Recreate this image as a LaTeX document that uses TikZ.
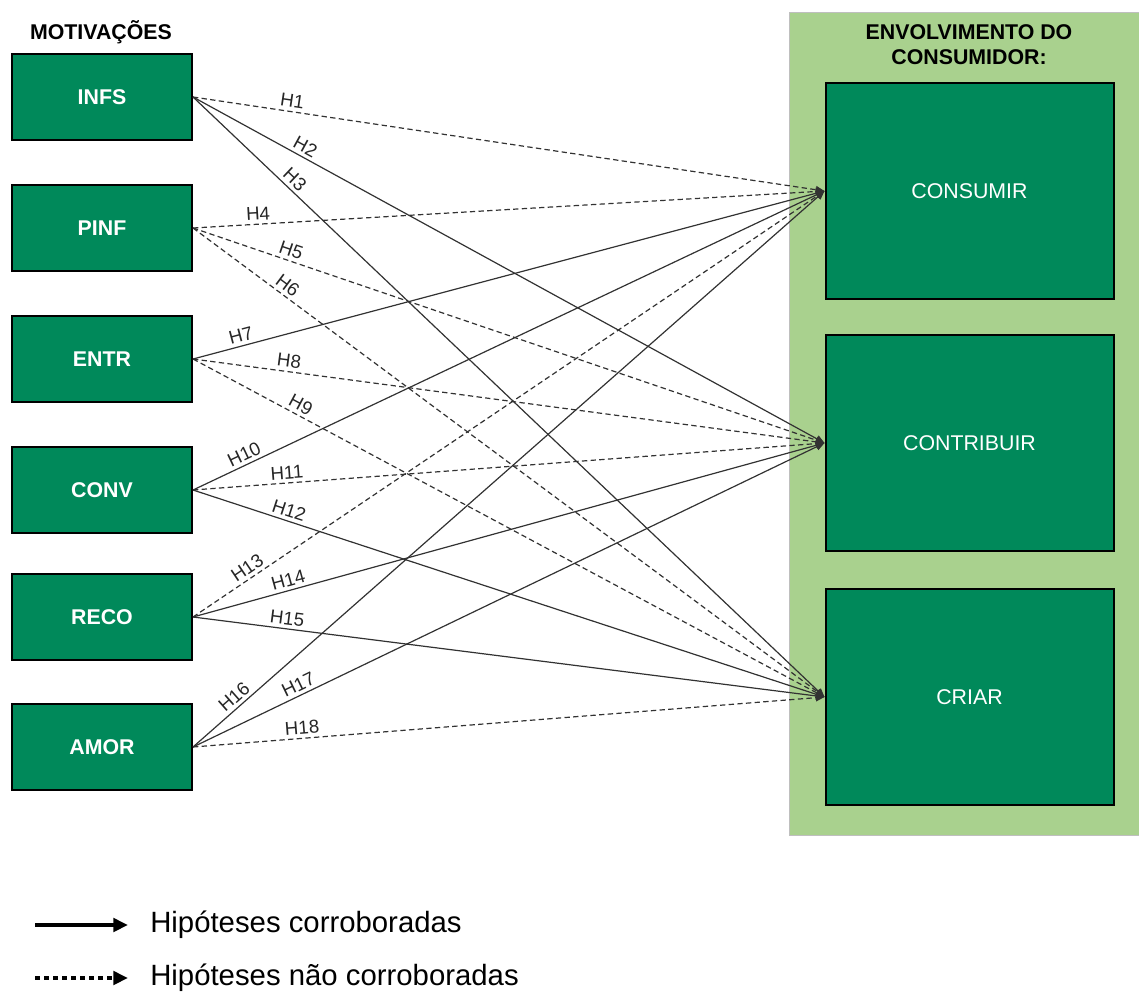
\documentclass[tikz,border=0pt]{standalone}
\usepackage{fontspec}
\setmainfont{Liberation Sans}
\usepackage{tikz}
\usetikzlibrary{arrows.meta}
\definecolor{boxgreen}{RGB}{0,137,90}
\definecolor{panelgreen}{RGB}{169,209,142}
\definecolor{linegray}{RGB}{50,50,50}
\tikzset{
  motiv/.style={draw=black,line width=1.5pt,fill=boxgreen,text=white,
    font=\fontsize{16}{19}\selectfont\bfseries,
    minimum width=135pt,minimum height=65pt,inner sep=0pt},
  envol/.style={draw=black,line width=1.5pt,fill=boxgreen,text=white,
    font=\fontsize{16}{19}\selectfont,
    minimum width=216pt,minimum height=162pt,inner sep=0pt},
  corrob/.style={draw=linegray,line width=0.9pt,-{Triangle[length=6.5pt,width=5.5pt]}},
  naocorrob/.style={corrob,dash pattern=on 4pt off 2.5pt},
  hlab/.style={sloped,above,inner sep=2.5pt,font=\fontsize{14}{16}\selectfont,text=black!85}
}

\begin{document}
\begin{tikzpicture}[x=0.75pt,y=-0.75pt]
\useasboundingbox (0,0) rectangle (1139,992);

% painel do envolvimento
\fill[panelgreen,draw=black!25,line width=0.75pt] (789,12) rectangle (1139,835);
\node[font=\fontsize{16}{18.75}\selectfont\bfseries,align=center] (titenv) at (969,45) {ENVOLVIMENTO DO\\CONSUMIDOR:};
\node[font=\fontsize{16}{19}\selectfont\bfseries] (titmot) at (101,32) {MOTIVAÇÕES};

% motivacoes
\node[motiv] (infs) at (102,97) {INFS};
\node[motiv] (pinf) at (102,228) {PINF};
\node[motiv] (entr) at (102,359) {ENTR};
\node[motiv] (conv) at (102,490) {CONV};
\node[motiv] (reco) at (102,617) {RECO};
\node[motiv] (amor) at (102,747) {AMOR};

% envolvimento
\node[envol] (consumir) at (969.5,191) {CONSUMIR};
\node[envol] (contribuir) at (969.5,443) {CONTRIBUIR};
\node[envol] (criar) at (969.5,697) {CRIAR};

% hipoteses
\draw[naocorrob] (infs.east) -- node[hlab,pos=0.155] {H1} (consumir.west);
\draw[corrob] (infs.east) -- node[hlab,pos=0.17] {H2} (contribuir.west);
\draw[corrob] (infs.east) -- node[hlab,pos=0.15] {H3} (criar.west);
\draw[naocorrob] (pinf.east) -- node[hlab,pos=0.104] {H4} (consumir.west);
\draw[naocorrob] (pinf.east) -- node[hlab,pos=0.15] {H5} (contribuir.west);
\draw[naocorrob] (pinf.east) -- node[hlab,pos=0.14] {H6} (criar.west);
\draw[corrob] (entr.east) -- node[hlab,pos=0.08] {H7} (consumir.west);
\draw[naocorrob] (entr.east) -- node[hlab,pos=0.15] {H8} (contribuir.west);
\draw[naocorrob] (entr.east) -- node[hlab,pos=0.163] {H9} (criar.west);
\draw[corrob] (conv.east) -- node[hlab,pos=0.088] {H10} (consumir.west);
\draw[naocorrob] (conv.east) -- node[hlab,pos=0.15] {H11} (contribuir.west);
\draw[corrob] (conv.east) -- node[hlab,pos=0.147] {H12} (criar.west);
\draw[naocorrob] (reco.east) -- node[hlab,pos=0.095] {H13} (consumir.west);
\draw[corrob] (reco.east) -- node[hlab,pos=0.155] {H14} (contribuir.west);
\draw[corrob] (reco.east) -- node[hlab,pos=0.147] {H15} (criar.west);
\draw[corrob] (amor.east) -- node[hlab,pos=0.076] {H16} (consumir.west);
\draw[corrob] (amor.east) -- node[hlab,pos=0.174] {H17} (contribuir.west);
\draw[naocorrob] (amor.east) -- node[hlab,pos=0.174] {H18} (criar.west);

% legenda
\coordinate (lsa) at (35,925);
\coordinate (lsb) at (128,925);
\coordinate (lna) at (35,978);
\coordinate (lnb) at (128,978);
\draw[line width=3.5pt,-{Triangle[length=11pt,width=10pt]}] (lsa) -- (lsb);
\draw[line width=3.5pt,dash pattern=on 3.75pt off 3pt,-{Triangle[length=11pt,width=10pt]}] (lna) -- (lnb);
\node[anchor=west,inner sep=0pt,font=\fontsize{22}{26}\selectfont] (legcor) at (150,925) {Hipóteses corroboradas};
\node[anchor=west,inner sep=0pt,font=\fontsize{22}{26}\selectfont] (legnao) at (150,978) {Hipóteses não corroboradas};
\end{tikzpicture}
\end{document}
